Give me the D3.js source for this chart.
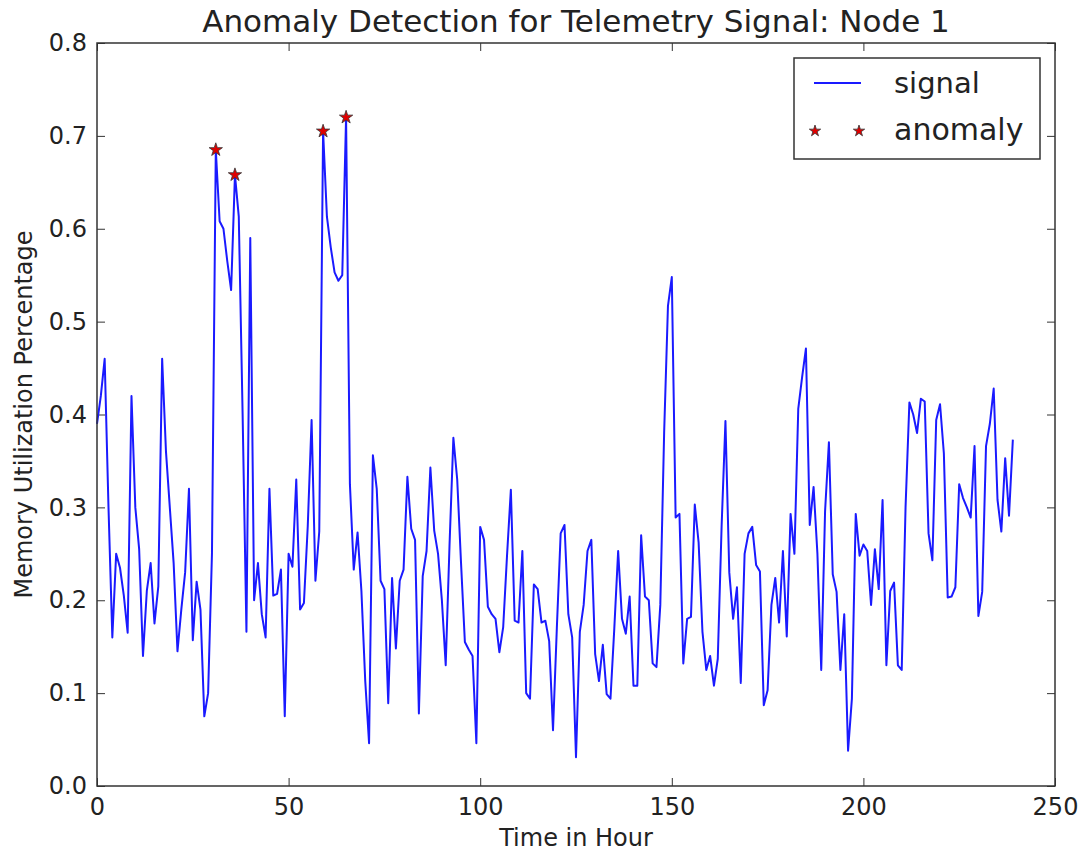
<!DOCTYPE html>
<html>
<head>
<meta charset="utf-8">
<script src="https://cdn.jsdelivr.net/npm/d3@7/dist/d3.min.js"></script>
<style>
  body { margin: 0; background: #fff; }
  text { font-family: "DejaVu Sans", sans-serif; fill: #222; }
</style>
</head>
<body>
<div id="chart"></div>
<script>
// memory utilisation per hour
const signal = [
  0.39, 0.42, 0.46, 0.30, 0.16, 0.25, 0.235, 0.205, 0.165, 0.42,
  0.30, 0.255, 0.14, 0.21, 0.24, 0.175, 0.215, 0.46, 0.36, 0.30,
  0.24, 0.145, 0.19, 0.23, 0.32, 0.157, 0.22, 0.19, 0.075, 0.10,
  0.25, 0.685, 0.608, 0.60, 0.565, 0.534, 0.658, 0.613, 0.40, 0.166,
  0.59, 0.20, 0.24, 0.185, 0.16, 0.32, 0.205, 0.207, 0.233, 0.075,
  0.25, 0.236, 0.33, 0.19, 0.197, 0.28, 0.394, 0.221, 0.274, 0.705,
  0.613, 0.58, 0.553, 0.544, 0.55, 0.72, 0.325, 0.233, 0.273, 0.21,
  0.113, 0.046, 0.356, 0.32, 0.221, 0.212, 0.089, 0.224, 0.148, 0.221,
  0.233, 0.333, 0.277, 0.265, 0.078, 0.226, 0.253, 0.343, 0.275, 0.25,
  0.20, 0.13, 0.26, 0.375, 0.33, 0.24, 0.155, 0.147, 0.14, 0.046,
  0.279, 0.265, 0.193, 0.185, 0.18, 0.144, 0.171, 0.248, 0.319, 0.178,
  0.176, 0.253, 0.10, 0.094, 0.217, 0.212, 0.176, 0.178, 0.156, 0.06,
  0.17, 0.272, 0.281, 0.185, 0.16, 0.031, 0.166, 0.195, 0.253, 0.265,
  0.142, 0.113, 0.152, 0.099, 0.094, 0.17, 0.253, 0.18, 0.164, 0.204,
  0.108, 0.108, 0.27, 0.204, 0.20, 0.132, 0.128, 0.195, 0.38, 0.517,
  0.548, 0.289, 0.293, 0.132, 0.18, 0.182, 0.303, 0.262, 0.166, 0.125,
  0.14, 0.108, 0.137, 0.28, 0.393, 0.23, 0.18, 0.214, 0.111, 0.25,
  0.272, 0.279, 0.238, 0.231, 0.087, 0.103, 0.195, 0.224, 0.176, 0.253,
  0.161, 0.293, 0.25, 0.406, 0.44, 0.471, 0.281, 0.322, 0.25, 0.125,
  0.296, 0.37, 0.228, 0.209, 0.125, 0.185, 0.038, 0.094, 0.293, 0.248,
  0.26, 0.253, 0.195, 0.255, 0.212, 0.308, 0.13, 0.21, 0.219, 0.13,
  0.125, 0.30, 0.413, 0.40, 0.38, 0.417, 0.414, 0.272, 0.243, 0.394,
  0.411, 0.358, 0.203, 0.204, 0.214, 0.325, 0.31, 0.30, 0.289, 0.366,
  0.183, 0.209, 0.366, 0.39, 0.428, 0.308, 0.274, 0.353, 0.291, 0.373
];
const anomalyHours = [31, 36, 59, 65];
const xTicks = [0, 50, 100, 150, 200, 250];
const yTicks = [0.0, 0.1, 0.2, 0.3, 0.4, 0.5, 0.6, 0.7, 0.8];

const points = signal.map((v, i) => ({ hour: i, value: v }));
const anomalies = anomalyHours.map(h => ({ hour: h, value: signal[h] }));

const margin = { top: 43, right: 27, bottom: 65, left: 97 };
const width = 1082 - margin.left - margin.right;
const height = 851 - margin.top - margin.bottom;

const svg = d3.select("#chart").append("svg")
  .attr("width", 1082)
  .attr("height", 851);

const g = svg.append("g")
  .attr("transform", `translate(${margin.left},${margin.top})`);

const x = d3.scaleLinear().domain([0, 250]).range([0, width]);
const y = d3.scaleLinear().domain([0, 0.8]).range([height, 0]);

// axes, ticks pointing inwards like the classic matplotlib style
const styleAxis = sel => {
  sel.select(".domain").remove();
  sel.selectAll(".tick line").attr("stroke", "#333").attr("stroke-width", 1);
  sel.selectAll(".tick text").style("font-size", "24px").attr("fill", "#222");
};

g.append("g")
  .attr("transform", `translate(0,${height})`)
  .call(d3.axisBottom(x).tickValues(xTicks).tickSize(-8).tickPadding(12).tickFormat(d3.format("d")))
  .call(styleAxis);

g.append("g")
  .call(d3.axisTop(x).tickValues(xTicks).tickSize(-8).tickFormat(""))
  .call(styleAxis);

g.append("g")
  .call(d3.axisLeft(y).tickValues(yTicks).tickSize(-8).tickPadding(10).tickFormat(d3.format(".1f")))
  .call(styleAxis);

g.append("g")
  .attr("transform", `translate(${width},0)`)
  .call(d3.axisRight(y).tickValues(yTicks).tickSize(-8).tickFormat(""))
  .call(styleAxis);

g.selectAll(".tick text").attr("font-family", "DejaVu Sans");

// signal line
const line = d3.line()
  .x(d => x(d.hour))
  .y(d => y(d.value));

g.append("path")
  .datum(points)
  .attr("fill", "none")
  .attr("stroke", "#1a1aff")
  .attr("stroke-width", 2)
  .attr("stroke-linejoin", "round")
  .attr("d", line);

// anomaly stars
const star = d3.symbol().type(d3.symbolStar).size(55);
g.selectAll(".anomaly")
  .data(anomalies)
  .enter()
  .append("path")
  .attr("class", "anomaly")
  .attr("transform", d => `translate(${x(d.hour)},${y(d.value)})`)
  .attr("d", star)
  .attr("fill", "#e00000")
  .attr("stroke", "#333")
  .attr("stroke-width", 0.8);

// frame
g.append("rect")
  .attr("width", width)
  .attr("height", height)
  .attr("fill", "none")
  .attr("stroke", "#333")
  .attr("stroke-width", 1.5);

// title and axis labels
svg.append("text")
  .attr("x", margin.left + width / 2)
  .attr("y", 32)
  .attr("text-anchor", "middle")
  .style("font-size", "31px")
  .text("Anomaly Detection for Telemetry Signal: Node 1");

svg.append("text")
  .attr("x", margin.left + width / 2)
  .attr("y", 846)
  .attr("text-anchor", "middle")
  .style("font-size", "24px")
  .text("Time in Hour");

svg.append("text")
  .attr("transform", `translate(32,${margin.top + height / 2}) rotate(-90)`)
  .attr("text-anchor", "middle")
  .style("font-size", "24px")
  .text("Memory Utilization Percentage");

// legend
const legend = svg.append("g");
legend.append("rect")
  .attr("x", 794).attr("y", 58)
  .attr("width", 246).attr("height", 101)
  .attr("fill", "#fff")
  .attr("stroke", "#333")
  .attr("stroke-width", 1.5);

legend.append("line")
  .attr("x1", 814).attr("x2", 861)
  .attr("y1", 83).attr("y2", 83)
  .attr("stroke", "#1a1aff")
  .attr("stroke-width", 2);

legend.selectAll(".legend-star")
  .data([815, 859])
  .enter()
  .append("path")
  .attr("class", "legend-star")
  .attr("transform", d => `translate(${d},131)`)
  .attr("d", d3.symbol().type(d3.symbolStar).size(40))
  .attr("fill", "#e00000")
  .attr("stroke", "#333")
  .attr("stroke-width", 0.8);

legend.append("text")
  .attr("x", 894).attr("y", 93)
  .style("font-size", "29px")
  .text("signal");

legend.append("text")
  .attr("x", 894).attr("y", 140)
  .style("font-size", "30px")
  .text("anomaly");
</script>
</body>
</html>
